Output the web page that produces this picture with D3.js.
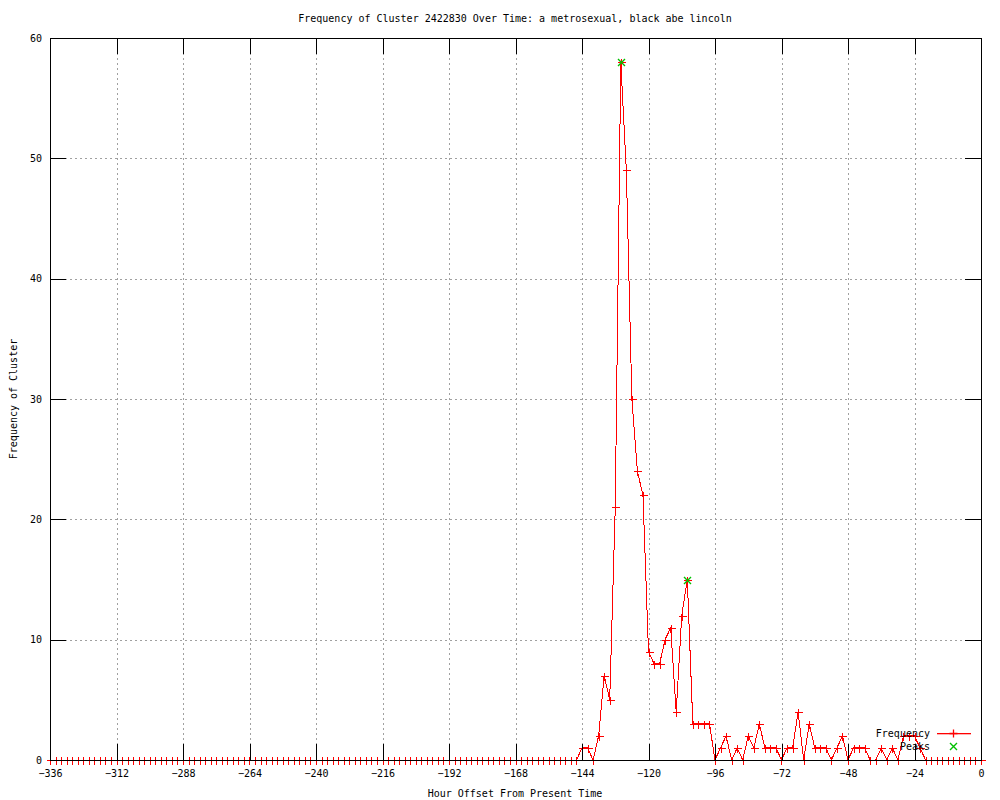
<!DOCTYPE html>
<html>
<head>
<meta charset="utf-8">
<script src="https://cdn.jsdelivr.net/npm/d3@7"></script>
<style>
  body { margin: 0; background: #fff; }
  text { font-family: "DejaVu Sans Mono", "Liberation Mono", monospace; font-size: 10px; fill: #000; }
  .axis path.domain { display: none; }
  .axis line { stroke: #000; shape-rendering: crispEdges; }
  .grid line { stroke: #a0a0a0; stroke-dasharray: 2,3; shape-rendering: crispEdges; }
  .grid path.domain { display: none; }
</style>
</head>
<body>
<div id="chart"></div>
<script>
// hour offsets, one sample every 2 hours
var hours = d3.range(-336, 1, 2);

// cluster frequency per sample (-336 ... 0)
var counts = [
  0,0,0,0,0,0,0,0,0,0,0,0,0,0,0,0,0,0,0,0,0,0,0,0,
  0,0,0,0,0,0,0,0,0,0,0,0,0,0,0,0,0,0,0,0,0,0,0,0,
  0,0,0,0,0,0,0,0,0,0,0,0,0,0,0,0,0,0,0,0,0,0,0,0,
  0,0,0,0,0,0,0,0,0,0,0,0,0,0,0,0,0,0,0,0,0,0,0,0,
  // -144 .. -20
  1,1,0,2,7,5,21,58,49,30,
  24,22,9,8,8,10,11,4,12,15,
  3,3,3,3,0,1,2,0,1,0,
  2,1,3,1,1,1,0,1,1,4,
  0,3,1,1,1,0,1,2,0,1,
  1,1,0,0,1,0,1,0,2,2,
  2,1,0,
  // -18 .. 0
  0,0,0,0,0,0,0,0,0,0
];

var peakHours = [-130, -106];
var peakCounts = [58, 15];

var xTicks = [-336, -312, -288, -264, -240, -216, -192, -168, -144, -120, -96, -72, -48, -24, 0];
var yTicks = [0, 10, 20, 30, 40, 50, 60];

var titleText = "Frequency of Cluster 2422830 Over Time: a metrosexual, black abe lincoln";
var xLabel = "Hour Offset From Present Time";
var yLabel = "Frequency of Cluster";

function init(){
  var w = 1000, h = 800;
  var padL = 50, padR = 981, padT = 38, padB = 760;

  var x = d3.scaleLinear().domain([-336, 0]).range([padL, padR]);
  var y = d3.scaleLinear().domain([0, 60]).range([padB, padT]);

  var svg = d3.select("#chart").append("svg")
    .attr("width", w)
    .attr("height", h);

  // grid
  svg.append("g")
    .attr("class", "grid")
    .attr("transform", "translate(0," + padB + ")")
    .call(d3.axisBottom(x)
      .tickValues(xTicks.filter(function(d){ return d > -336 && d < 0; }))
      .tickSize(-(padB - padT))
      .tickFormat(""));

  svg.append("g")
    .attr("class", "grid")
    .attr("transform", "translate(" + padL + ",0)")
    .call(d3.axisLeft(y)
      .tickValues(yTicks.filter(function(d){ return d > 0 && d < 60; }))
      .tickSize(-(padR - padL))
      .tickFormat(""));

  // data line
  var points = hours.map(function(d, i){ return [d, counts[i]]; });

  var line = d3.line()
    .x(function(d){ return x(d[0]); })
    .y(function(d){ return y(d[1]); });

  svg.append("path")
    .datum(points)
    .attr("d", line)
    .attr("fill", "none")
    .attr("stroke", "#ff0000")
    .attr("stroke-width", 1)
    .attr("shape-rendering", "crispEdges");

  var plus = "M-4,0H4M0,-4V4";
  var cross = "M-3.5,-3.5L3.5,3.5M-3.5,3.5L3.5,-3.5";

  svg.selectAll(".pt")
    .data(points)
    .enter()
    .append("path")
    .attr("class", "pt")
    .attr("transform", function(d){
      return "translate(" + (Math.round(x(d[0])) + 0.5) + "," + (Math.round(y(d[1])) + 0.5) + ")";
    })
    .attr("d", plus)
    .attr("fill", "none")
    .attr("stroke", "#ff0000")
    .attr("shape-rendering", "crispEdges");

  svg.selectAll(".peak")
    .data(peakHours)
    .enter()
    .append("path")
    .attr("class", "peak")
    .attr("transform", function(d, i){
      return "translate(" + (Math.round(x(d)) + 0.5) + "," + (Math.round(y(peakCounts[i])) + 0.5) + ")";
    })
    .attr("d", cross)
    .attr("fill", "none")
    .attr("stroke", "#00c000")
    .attr("stroke-width", 1.4);

  // border
  svg.append("rect")
    .attr("x", padL + 0.5)
    .attr("y", padT + 0.5)
    .attr("width", padR - padL)
    .attr("height", padB - padT)
    .attr("fill", "none")
    .attr("stroke", "#000")
    .attr("shape-rendering", "crispEdges");

  // axes, ticks pointing inward
  svg.append("g")
    .attr("class", "axis")
    .attr("transform", "translate(0," + padB + ")")
    .call(d3.axisBottom(x).tickValues(xTicks).tickSizeInner(-16).tickSizeOuter(0).tickPadding(10));

  svg.append("g")
    .attr("class", "axis")
    .attr("transform", "translate(0," + padT + ")")
    .call(d3.axisTop(x).tickValues(xTicks).tickSizeInner(-16).tickSizeOuter(0).tickFormat(""));

  svg.append("g")
    .attr("class", "axis")
    .attr("transform", "translate(" + padL + ",0)")
    .call(d3.axisLeft(y).tickValues(yTicks).tickSizeInner(-16).tickSizeOuter(0).tickPadding(8));

  svg.append("g")
    .attr("class", "axis")
    .attr("transform", "translate(" + padR + ",0)")
    .call(d3.axisRight(y).tickValues(yTicks).tickSizeInner(-16).tickSizeOuter(0).tickFormat(""));

  svg.selectAll(".axis")
    .attr("font-family", null)
    .attr("font-size", null);

  svg.selectAll(".axis text")
    .attr("fill", "#000");

  // titles
  svg.append("text")
    .attr("x", 515)
    .attr("y", 22)
    .attr("text-anchor", "middle")
    .text(titleText);

  svg.append("text")
    .attr("x", 515)
    .attr("y", 797)
    .attr("text-anchor", "middle")
    .text(xLabel);

  svg.append("text")
    .attr("transform", "translate(17,399) rotate(-90)")
    .attr("text-anchor", "middle")
    .text(yLabel);

  // legend
  var legend = svg.append("g").attr("class", "legend");

  legend.append("text")
    .attr("x", 930)
    .attr("y", 737)
    .attr("text-anchor", "end")
    .text("Frequency");

  legend.append("rect")
    .attr("x", 937).attr("y", 733)
    .attr("width", 34).attr("height", 1.3)
    .attr("fill", "#ff0000");

  legend.append("path")
    .attr("transform", "translate(953.5,733.5)")
    .attr("d", plus)
    .attr("fill", "none")
    .attr("stroke", "#ff0000")
    .attr("stroke-width", 1.3);

  legend.append("text")
    .attr("x", 930)
    .attr("y", 750)
    .attr("text-anchor", "end")
    .text("Peaks");

  legend.append("path")
    .attr("transform", "translate(953.5,746.5)")
    .attr("d", cross)
    .attr("fill", "none")
    .attr("stroke", "#00c000")
    .attr("stroke-width", 1.4);
}

window.onload = init;
</script>
</body>
</html>
